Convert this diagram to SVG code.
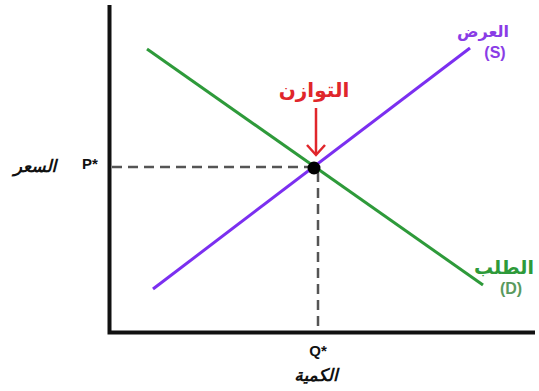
<svg xmlns="http://www.w3.org/2000/svg" width="539" height="391" viewBox="0 0 539 391">
<style>
.axis{stroke:#111;stroke-width:4;fill:none}
.dash{stroke:#555;stroke-width:2.5;stroke-dasharray:10 6;fill:none}
.lbl{font-family:"Liberation Sans","Noto Sans",sans-serif;font-weight:bold}
.ar{font-family:"DejaVu Sans","Noto Sans",sans-serif;font-weight:bold}
</style>
<rect width="539" height="391" fill="#fff"/>
<g id="axes">
<path class="axis" d="M109.5,5 V332.5 H535"/>
</g>
<g id="connectors">
<path class="dash" d="M112,167 H313"/>
<path class="dash" d="M318,172 V330"/>
<line x1="316" y1="108" x2="316" y2="154" stroke="#e0262b" stroke-width="2.5"/>
<path d="M307,145 L316,155 L325,145" fill="none" stroke="#e0262b" stroke-width="2.5"/>
</g>
<g id="demand">
<line x1="147" y1="49" x2="483" y2="285" stroke="#2e9a3a" stroke-width="3"/>
</g>
<g id="supply">
<line x1="153" y1="289" x2="470" y2="48" stroke="#7b2ff0" stroke-width="3"/>
</g>
<g id="equilibrium">
<circle cx="314" cy="168" r="6.5" fill="#000"/>
<text class="ar" x="314" y="97" font-size="20" fill="#e0262b" text-anchor="middle">التوازن</text>
</g>
<g id="supply-label">
<text class="ar" x="483" y="37" font-size="16" fill="#8a3ce6" text-anchor="middle">العرض</text>
<text class="lbl" x="495" y="58" font-size="16" fill="#8a3ce6" text-anchor="middle">(S)</text>
</g>
<g id="demand-label">
<text class="ar" x="504" y="274" font-size="19" fill="#2e9a3a" text-anchor="middle">الطلب</text>
<text class="lbl" x="511" y="294" font-size="16" fill="#5a9a5e" text-anchor="middle">(D)</text>
</g>
<g id="price-label">
<text class="lbl" x="90" y="169" font-size="15" fill="#111" text-anchor="middle">P*</text>
<text class="ar" x="35" y="172" font-size="17" font-style="italic" fill="#111" text-anchor="middle">السعر</text>
</g>
<g id="quantity-label">
<text class="lbl" x="318" y="356" font-size="15" fill="#111" text-anchor="middle">Q*</text>
<text class="ar" x="316" y="381" font-size="17" font-style="italic" fill="#111" text-anchor="middle">الكمية</text>
</g>
</svg>
